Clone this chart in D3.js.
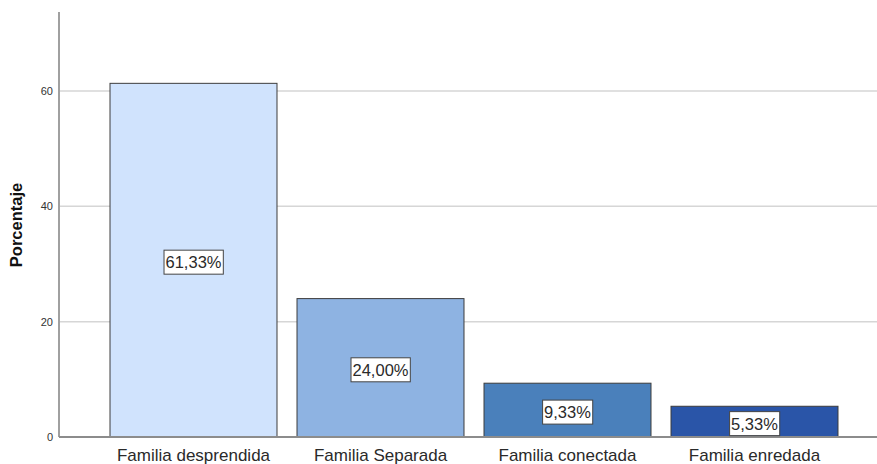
<!DOCTYPE html>
<html>
<head>
<meta charset="utf-8">
<script src="https://cdn.jsdelivr.net/npm/d3@7"></script>
<style>
  body { margin: 0; background: #fff; }
  svg text { font-family: "Liberation Sans", Arial, sans-serif; }
</style>
</head>
<body>
<svg class="barchart" width="877" height="464"></svg>
<script>
var categories = ["Familia desprendida", "Familia Separada", "Familia conectada", "Familia enredada"];
var values = [61.33, 24.00, 9.33, 5.33];
var labels = ["61,33%", "24,00%", "9,33%", "5,33%"];
var colours = ["#d0e3fd", "#8eb3e2", "#4a80bb", "#2a55a8"];
var yTicks = [0, 20, 40, 60];

(function barChartIFFE(){
    var svg = d3.select("svg.barchart"),
        axisX = 59, baseY = 437, topY = 12, rightX = 877;

    var x = d3.scaleBand()
        .domain(categories)
        .range([100, 848])
        .paddingInner(0.107)
        .paddingOuter(0.0535);

    var y = d3.scaleLinear()
        .domain([0, 73.7])
        .range([baseY, topY]);

    // gridlines
    svg.append("g")
        .selectAll("line")
        .data(yTicks.filter(function(t) { return t > 0; }))
        .enter().append("line")
        .attr("x1", axisX).attr("x2", rightX)
        .attr("y1", function(d) { return y(d); })
        .attr("y2", function(d) { return y(d); })
        .attr("stroke", "#d6d6d6")
        .attr("stroke-width", 1.5);

    // tick labels
    svg.append("g")
        .selectAll("text")
        .data(yTicks)
        .enter().append("text")
        .attr("x", axisX - 6)
        .attr("y", function(d) { return y(d); })
        .attr("dy", "0.35em")
        .attr("text-anchor", "end")
        .attr("font-size", 11)
        .attr("fill", "#333")
        .text(function(d) { return d; });

    // bars
    svg.append("g")
        .selectAll("rect")
        .data(values)
        .enter().append("rect")
        .attr("x", function(d, i) { return x(categories[i]); })
        .attr("y", function(d) { return y(d); })
        .attr("width", x.bandwidth())
        .attr("height", function(d) { return baseY - y(d); })
        .attr("fill", function(d, i) { return colours[i]; })
        .attr("stroke", "#3c3c3c")
        .attr("stroke-width", 1);

    // axes lines
    svg.append("line")
        .attr("x1", axisX).attr("x2", axisX)
        .attr("y1", topY).attr("y2", baseY)
        .attr("stroke", "#a0a0a0").attr("stroke-width", 2);
    svg.append("line")
        .attr("x1", axisX).attr("x2", rightX)
        .attr("y1", baseY).attr("y2", baseY)
        .attr("stroke", "#8c8c8c").attr("stroke-width", 2);

    // value labels
    var lab = svg.append("g")
        .selectAll("g")
        .data(values)
        .enter().append("g")
        .attr("transform", function(d, i) {
            var cy = Math.min((y(d) + baseY) / 2 + 2, baseY - 13);
            return "translate(" + (x(categories[i]) + x.bandwidth() / 2) + "," + cy + ")";
        });
    lab.append("text")
        .attr("text-anchor", "middle")
        .attr("dy", "0.36em")
        .attr("font-size", 16.5)
        .attr("fill", "#2a2a2a")
        .text(function(d, i) { return labels[i]; })
        .each(function() {
            var bb = this.getBBox();
            d3.select(this.parentNode).insert("rect", "text")
                .attr("x", bb.x - 1.5).attr("y", -12)
                .attr("width", bb.width + 3).attr("height", 24)
                .attr("fill", "#fff")
                .attr("stroke", "#444")
                .attr("stroke-width", 1);
        });

    // category labels
    svg.append("g")
        .selectAll("text")
        .data(categories)
        .enter().append("text")
        .attr("x", function(d) { return x(d) + x.bandwidth() / 2; })
        .attr("y", 461)
        .attr("text-anchor", "middle")
        .attr("font-size", 17)
        .attr("fill", "#2a2a2a")
        .text(function(d) { return d; });

    // y title
    svg.append("text")
        .attr("transform", "translate(22,225) rotate(-90)")
        .attr("text-anchor", "middle")
        .attr("font-size", 16.5)
        .attr("font-weight", "bold")
        .attr("fill", "#111")
        .text("Porcentaje");
})();
</script>
</body>
</html>
